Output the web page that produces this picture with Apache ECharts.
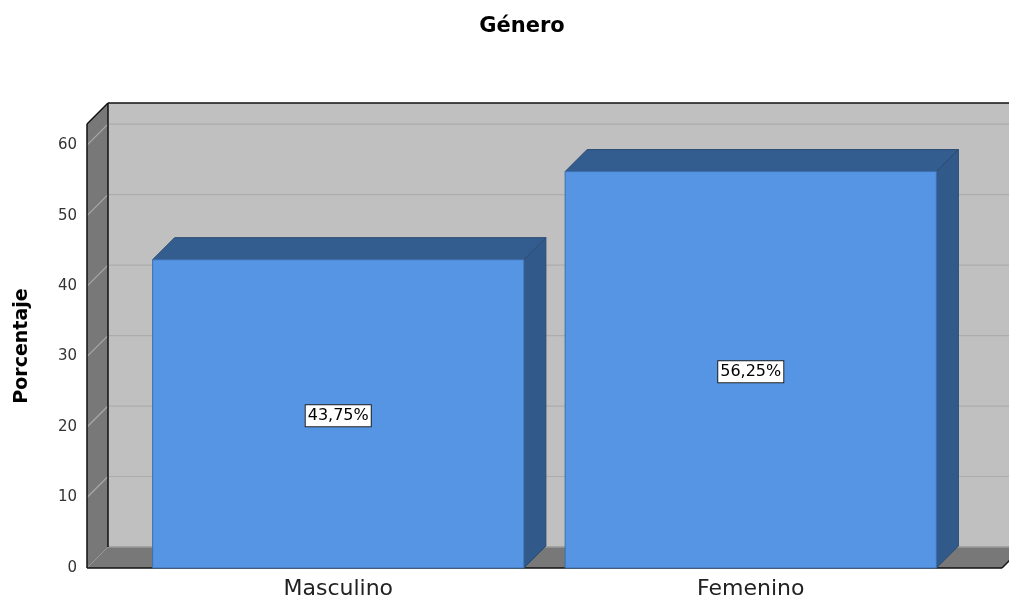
<!DOCTYPE html>
<html>
<head>
<meta charset="utf-8">
<script src="https://cdn.jsdelivr.net/npm/echarts@6/dist/echarts.min.js"></script>
<style>
  html, body { margin: 0; padding: 0; background: #fff; }
  #chart { width: 1009px; height: 600px; }
</style>
</head>
<body>
<div id="chart"></div>
<script>
// datos del gráfico
const categories = ['Masculino', 'Femenino']
const percentages = [43.75, 56.25]
const pctLabels = ['43,75%', '56,25%']
const yTicks = [0, 10, 20, 30, 40, 50, 60]
const yMax = 63

const WALL_DEPTH = 21 // profundidad 3D de las paredes (px)
const BAR_DEPTH = 22
const SIDE_PAD = 45 // espacio entre la pared y la primera/última categoría
const FONT = 'DejaVu Sans, Liberation Sans, sans-serif'

function renderWalls(params, api) {
  const cs = params.coordSys
  const D = WALL_DEPTH
  const left = cs.x - SIDE_PAD
  const right = cs.x + cs.width + SIDE_PAD
  const top = api.coord([0, yMax])[1]
  const bottom = api.coord([0, 0])[1]
  const black = { stroke: '#111', lineWidth: 1.5 }
  const children = []

  // pared del fondo
  children.push({
    type: 'rect',
    shape: { x: left + D, y: top - D, width: right - left, height: bottom - top },
    style: { fill: '#c0c0c0' }
  })
  // pared izquierda
  children.push({
    type: 'polygon',
    shape: { points: [[left, top], [left + D, top - D], [left + D, bottom - D], [left, bottom]] },
    style: { fill: '#787878' }
  })
  // líneas de la cuadrícula
  yTicks.forEach(v => {
    if (v === 0) return
    const y = api.coord([0, v])[1]
    children.push({
      type: 'line',
      shape: { x1: left + D, y1: y - D, x2: right + D, y2: y - D },
      style: { stroke: '#acacac', lineWidth: 1.2 }
    })
    children.push({
      type: 'line',
      shape: { x1: left, y1: y, x2: left + D, y2: y - D },
      style: { stroke: '#a8a8a8', lineWidth: 1.2 }
    })
  })
  // suelo
  children.push({
    type: 'polygon',
    shape: { points: [[left, bottom], [left + D, bottom - D], [right + D, bottom - D], [right, bottom]] },
    style: { fill: '#787878' }
  })
  children.push({
    type: 'line',
    shape: { x1: left + D, y1: bottom - D, x2: right + D, y2: bottom - D },
    style: { stroke: '#9a9a9a', lineWidth: 1.5 }
  })
  // bordes negros
  const edges = [
    [left, top, left, bottom],
    [left, top, left + D, top - D],
    [left + D, top - D, right + D, top - D],
    [left + D, top - D, left + D, bottom - D],
    [left, bottom, right, bottom],
    [right, bottom, right + D, bottom - D]
  ]
  edges.forEach(e => {
    children.push({ type: 'line', shape: { x1: e[0], y1: e[1], x2: e[2], y2: e[3] }, style: black })
  })
  return { type: 'group', children: children }
}

function renderBar(params, api) {
  const idx = api.value(0)
  const val = api.value(1)
  const topPt = api.coord([idx, val])
  const basePt = api.coord([idx, 0])
  const bw = api.size([1, 0])[0] * 0.9
  const x0 = topPt[0] - bw / 2
  const x1 = topPt[0] + bw / 2
  const yT = topPt[1]
  const yB = basePt[1]
  const D = BAR_DEPTH
  const midY = api.coord([idx, val / 2])[1]
  return {
    type: 'group',
    children: [
      {
        type: 'polygon',
        shape: { points: [[x1, yT], [x1 + D, yT - D], [x1 + D, yB - D], [x1, yB]] },
        style: { fill: '#315a8b', stroke: '#2a4a72', lineWidth: 1 }
      },
      {
        type: 'polygon',
        shape: { points: [[x0, yT], [x0 + D, yT - D], [x1 + D, yT - D], [x1, yT]] },
        style: { fill: '#345d8f', stroke: '#2a4a72', lineWidth: 1 }
      },
      {
        type: 'rect',
        shape: { x: x0, y: yT, width: bw, height: yB - yT },
        style: { fill: '#5595e3', stroke: '#3e6fae', lineWidth: 1 }
      },
      {
        type: 'text',
        x: topPt[0],
        y: midY + 2,
        style: {
          text: pctLabels[params.dataIndex],
          fill: '#000',
          font: '16px ' + FONT,
          align: 'center',
          verticalAlign: 'middle',
          backgroundColor: '#fff',
          borderColor: '#222',
          borderWidth: 1,
          padding: [3, 2, 2, 2]
        }
      }
    ]
  }
}

const chart = echarts.init(document.getElementById('chart'))
chart.setOption({
  animation: false,
  title: {
    text: 'Género',
    left: 517,
    top: 11,
    textAlign: 'center',
    textStyle: { fontFamily: FONT, fontWeight: 'bold', fontSize: 21, color: '#000' }
  },
  grid: { left: 132, right: 52, top: 124, bottom: 32 },
  xAxis: {
    type: 'category',
    data: categories,
    axisLine: { show: false },
    axisTick: { show: false },
    axisLabel: { fontFamily: FONT, fontSize: 22, color: '#222', margin: 10 }
  },
  yAxis: {
    type: 'value',
    min: 0,
    max: yMax,
    interval: 10,
    name: 'Porcentaje',
    nameLocation: 'middle',
    nameGap: 100,
    nameTextStyle: { fontFamily: FONT, fontWeight: 'bold', fontSize: 19, color: '#000' },
    axisLine: { show: false },
    axisTick: { show: false },
    splitLine: { show: false },
    axisLabel: {
      fontFamily: FONT, fontSize: 15, color: '#333', margin: 55,
      showMaxLabel: false, padding: [5, 0, 0, 0]
    }
  },
  series: [
    {
      type: 'custom',
      renderItem: renderWalls,
      data: [[0, 0]],
      silent: true,
      z: 1
    },
    {
      type: 'custom',
      renderItem: renderBar,
      data: percentages.map((v, i) => [i, v]),
      encode: { x: 0, y: 1 },
      z: 2
    }
  ]
})
</script>
</body>
</html>
